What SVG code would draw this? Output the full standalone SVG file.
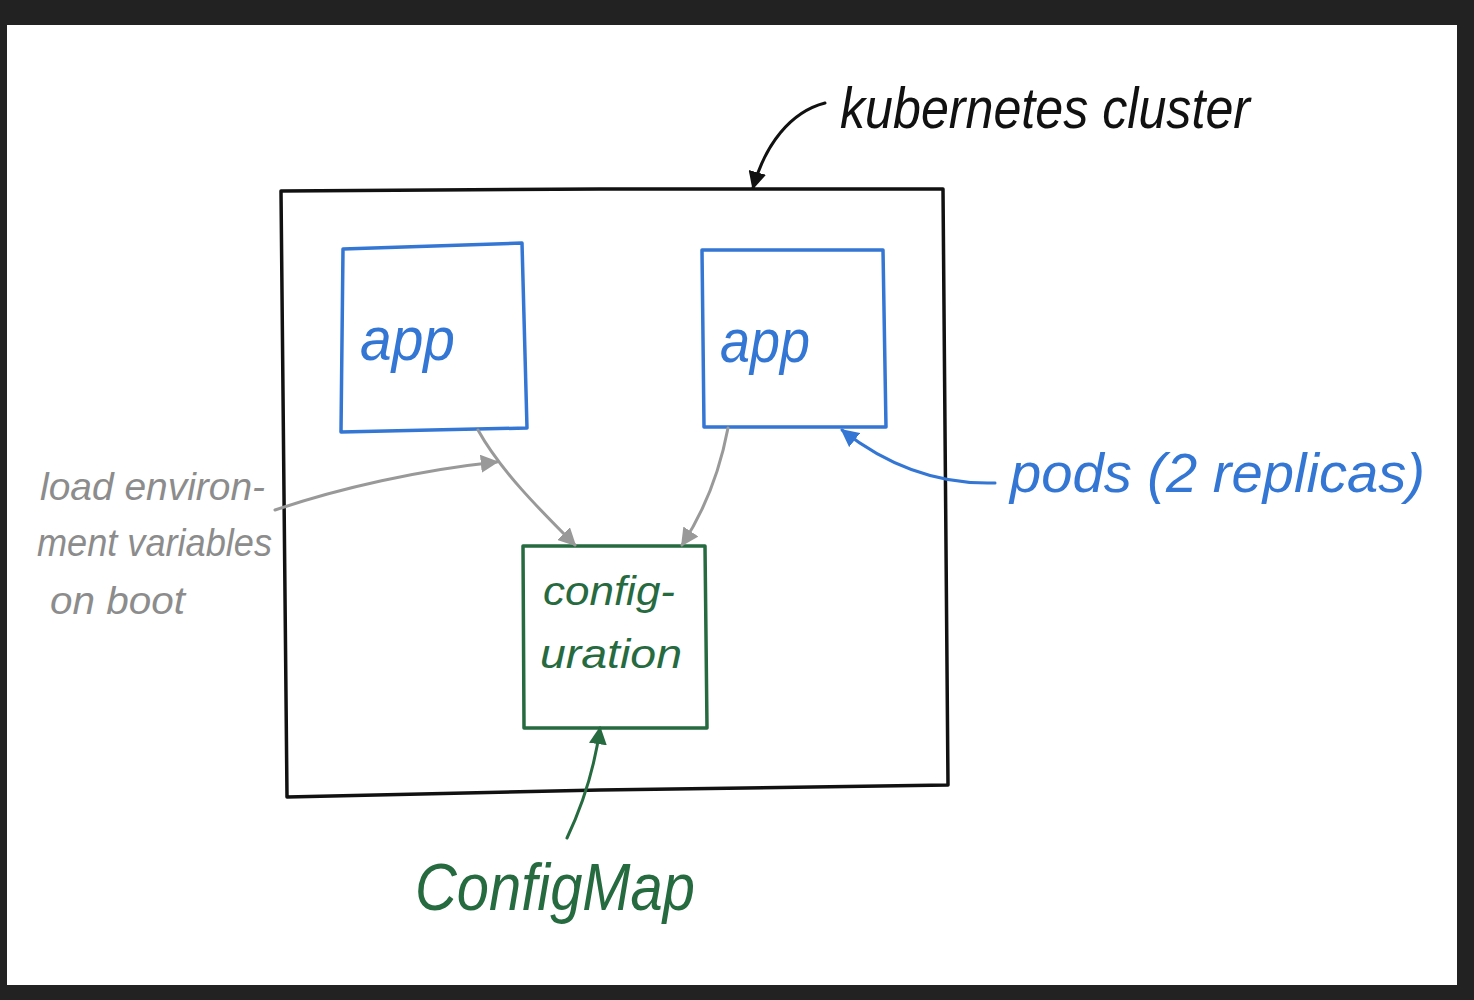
<svg xmlns="http://www.w3.org/2000/svg" width="1474" height="1000" viewBox="0 0 1474 1000">
<style>
.box{fill:none;stroke-width:3.5;stroke-linejoin:round}
.k{stroke:#111}.b{stroke:#3476d4}.g{stroke:#266a40}
.t{font-family:"Liberation Sans",Arial,sans-serif;font-style:italic}
.con{fill:none;stroke-width:3;stroke-linecap:round}
</style>
<defs>
<marker id="mk" viewBox="0 0 10 10" refX="9" refY="5" markerWidth="18" markerHeight="18" orient="auto" markerUnits="userSpaceOnUse"><path d="M0,0L10,5L0,10z" fill="#111"/></marker>
<marker id="mg" viewBox="0 0 10 10" refX="9" refY="5" markerWidth="6" markerHeight="6" orient="auto"><path d="M0,0L10,5L0,10z" fill="#999"/></marker>
<marker id="mb" viewBox="0 0 10 10" refX="9" refY="5" markerWidth="6" markerHeight="6" orient="auto"><path d="M0,0L10,5L0,10z" fill="#3476d4"/></marker>
<marker id="mgr" viewBox="0 0 10 10" refX="9" refY="5" markerWidth="6" markerHeight="6" orient="auto"><path d="M0,0L10,5L0,10z" fill="#266a40"/></marker>
</defs>
<rect width="1474" height="1000" fill="#222"/>
<rect x="7" y="25" width="1450" height="960" fill="#fff"/>

<g id="cluster">
<path class="box k" d="M281,191 L600,189 L943,189 L948,785 L600,790 L287,797 Z"/>
<text class="t" x="840" y="128" font-size="58" fill="#111" textLength="410" lengthAdjust="spacingAndGlyphs">kubernetes cluster</text>
</g>

<g id="app1">
<path class="box b" d="M343,249 L522,243 L527,428 L341,432 Z"/>
<text class="t" x="360" y="360" font-size="62" fill="#3476d4" textLength="95" lengthAdjust="spacingAndGlyphs">app</text>
</g>

<g id="app2">
<path class="box b" d="M702,250 L883,250 L886,427 L704,427 Z"/>
<text class="t" x="720" y="362" font-size="62" fill="#3476d4" textLength="90" lengthAdjust="spacingAndGlyphs">app</text>
</g>

<g id="config">
<path class="box g" d="M523,546 L705,546 L707,728 L524,728 Z"/>
<text class="t" x="543" y="605" font-size="40" fill="#266a40" textLength="132" lengthAdjust="spacingAndGlyphs">config-</text>
<text class="t" x="540" y="668" font-size="40" fill="#266a40" textLength="142" lengthAdjust="spacingAndGlyphs">uration</text>
</g>

<g id="load-label">
<text class="t" x="40" y="500" font-size="38" fill="#8c8c8c" textLength="225" lengthAdjust="spacingAndGlyphs">load environ-</text>
<text class="t" x="37" y="556" font-size="38" fill="#8c8c8c" textLength="235" lengthAdjust="spacingAndGlyphs">ment variables</text>
<text class="t" x="50" y="614" font-size="38" fill="#8c8c8c" textLength="135" lengthAdjust="spacingAndGlyphs">on boot</text>
</g>

<g id="pods-label">
<text class="t" x="1010" y="492" font-size="56" fill="#3476d4" textLength="415" lengthAdjust="spacingAndGlyphs">pods (2 replicas)</text>
</g>

<g id="configmap-label">
<text class="t" x="415" y="910" font-size="66" fill="#266a40" textLength="280" lengthAdjust="spacingAndGlyphs">ConfigMap</text>
</g>

<g id="connectors">
<path class="con" stroke="#111" d="M825,103 C790,112 765,145 753,188" marker-end="url(#mk)"/>
<path class="con" stroke="#999" d="M478,430 C500,470 540,510 575,545" marker-end="url(#mg)"/>
<path class="con" stroke="#999" d="M728,428 C720,470 705,510 682,545" marker-end="url(#mg)"/>
<path class="con" stroke="#999" d="M275,510 C340,488 420,470 497,462" marker-end="url(#mg)"/>
<path class="con" stroke="#3476d4" d="M995,483 C930,485 880,460 842,430" marker-end="url(#mb)"/>
<path class="con" stroke="#266a40" d="M567,838 C585,800 595,765 600,728" marker-end="url(#mgr)"/>
</g>
</svg>
